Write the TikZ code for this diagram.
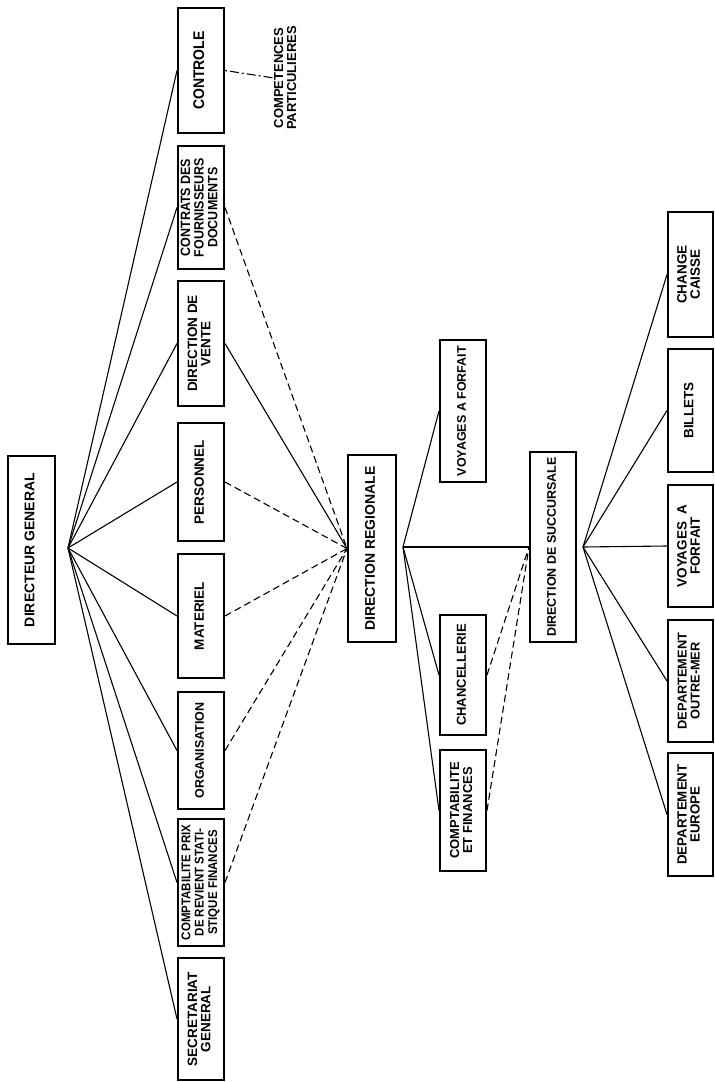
\documentclass[tikz,border=0pt]{standalone}
\usepackage{fontspec}
\setmainfont{Liberation Sans}
\usepackage{graphicx}
\newcommand\lab[3]{\rotatebox{90}{\fontsize{#1}{#2}\selectfont\bfseries\begin{tabular}{@{}c@{}}#3\end{tabular}}}
\newcommand\labs[4]{\rotatebox{90}{\scalebox{1}[#1]{\fontsize{#2}{#3}\selectfont\bfseries\begin{tabular}{@{}c@{}}#4\end{tabular}}}}
\begin{document}
\begin{tikzpicture}[x=1pt,y=-1pt,
  box/.style={draw, line width=2pt, inner sep=0pt, minimum width=46pt},
  link/.style={line width=1.1pt},
  dlink/.style={line width=1.1pt, dash pattern=on 7pt off 4pt},
  ddlink/.style={line width=1.1pt, dash pattern=on 2pt off 3pt on 9pt off 3pt}]
\useasboundingbox (0,0) rectangle (715,1082);
% top level
\node[box, minimum width=47pt, minimum height=188pt] (dg) at (31.5,550) {\lab{14}{14}{DIRECTEUR GENERAL}};
% second column
\node[box, minimum height=125pt] (ctl) at (201,70.5) {\labs{1.1}{14}{14}{CONTROLE}};
\node[box, minimum height=123pt] (con) at (201,207.5) {\labs{1.08}{12.5}{12.6}{CONTRATS DES\\FOURNISSEURS\\DOCUMENTS}};
\node[box, minimum height=125pt] (ven) at (201,343.5) {\lab{13.5}{13}{DIRECTION DE\\VENTE}};
\node[box, minimum height=118pt] (per) at (201,482) {\lab{13.5}{14}{PERSONNEL}};
\node[box, minimum height=124pt] (mat) at (201,616) {\lab{13.5}{14}{MATERIEL}};
\node[box, minimum height=117pt] (org) at (201,750.5) {\lab{12.5}{14}{ORGANISATION}};
\node[box, minimum height=127pt] (cpt) at (201,882.5) {\labs{1.1}{11.5}{12.2}{COMPTABILITE PRIX\\DE REVIENT STATI-\\STIQUE FINANCES}};
\node[box, minimum height=122pt] (sec) at (201,1019) {\lab{13.5}{13}{SECRETARIAT\\GENERAL}};
% regional
\node[box, minimum width=48pt, minimum height=187pt] (dr) at (372,548.5) {\lab{14}{14}{DIRECTION REGIONALE}};
\node[box, minimum height=142pt] (vaf) at (463,411) {\lab{12.5}{14}{VOYAGES A FORFAIT}};
\node[box, minimum height=120pt] (cha) at (463,675) {\lab{13}{14}{CHANCELLERIE}};
\node[box, minimum height=121pt] (cef) at (463,810.5) {\lab{13}{13}{COMPTABILITE\\ET FINANCES}};
% succursale
\node[box, minimum height=190pt] (ds) at (553,547) {\lab{12.5}{14}{DIRECTION DE SUCCURSALE}};
\node[box, minimum width=45pt, minimum height=125pt] (cc) at (690.5,274.5) {\lab{13.5}{13}{CHANGE\\CAISSE}};
\node[box, minimum width=45pt, minimum height=123pt] (bil) at (690.5,410.5) {\lab{13.5}{14}{BILLETS}};
\node[box, minimum width=45pt, minimum height=122pt] (vaf2) at (690.5,546) {\lab{13.5}{13}{VOYAGES~~A\\FORFAIT}};
\node[box, minimum width=45pt, minimum height=122pt] (dom) at (690.5,681) {\lab{12.8}{13}{DEPARTEMENT\\OUTRE-MER}};
\node[box, minimum width=45pt, minimum height=123pt] (deu) at (690.5,814.5) {\lab{13.3}{13}{DEPARTEMENT\\EUROPE}};
% side label
\node[inner sep=0pt] (comp) at (287,78) {\lab{13}{13}{COMPETENCES\\PARTICULIERES}};
% connectors
\coordinate (dgf) at (68,548);
\foreach \n in {ctl,con,ven,per,mat,org,cpt,sec} \draw[link] (dgf) -- (\n.west);
\draw[link] (ven.east) -- (dr.west);
\foreach \n in {con,per,mat,org,cpt} \draw[dlink] (\n.east) -- (dr.west);
\coordinate (drf) at (403,547);
\foreach \n in {vaf,cha,cef,ds} \draw[link] (drf) -- (\n.west);
\draw[dlink] (cha.east) -- (ds.west);
\draw[dlink] (cef.east) -- (ds.west);
\coordinate (dsf) at (583,547);
\foreach \n in {cc,bil,vaf2,dom,deu} \draw[link] (dsf) -- (\n.west);
\draw[ddlink] (ctl.east) -- (comp.west);
\end{tikzpicture}
\end{document}
